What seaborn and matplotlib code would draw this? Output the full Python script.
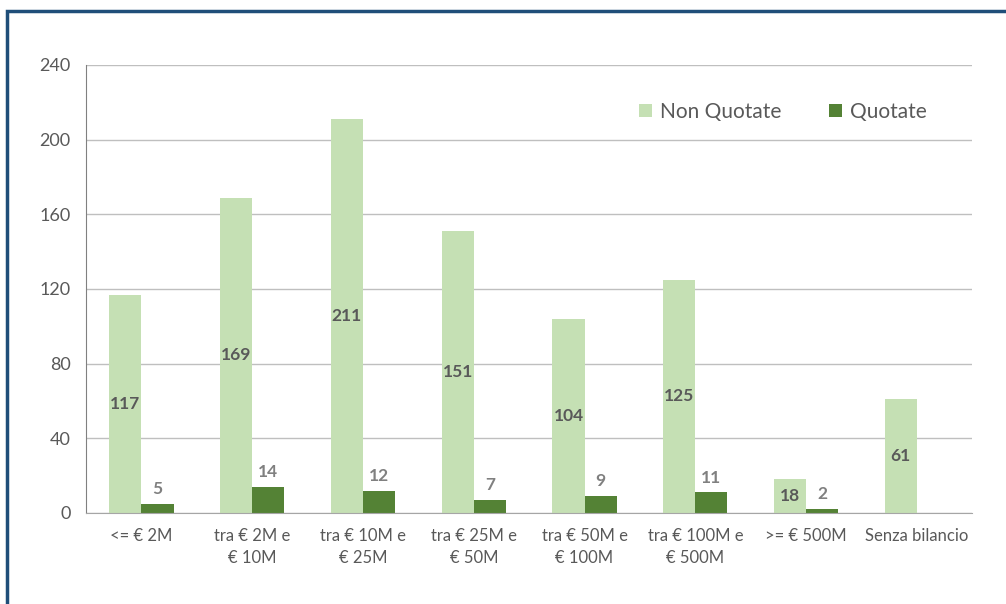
import pandas as pd
import numpy as np
import matplotlib
matplotlib.use('Agg')
import matplotlib.pyplot as plt
import seaborn as sns
from matplotlib.patches import Rectangle

# data
categories = ['<= € 2M', 'tra € 2M e\n€ 10M', 'tra € 10M e\n€ 25M', 'tra € 25M e\n€ 50M',
              'tra € 50M e\n€ 100M', 'tra € 100M e\n€ 500M', '>= € 500M', 'Senza bilancio']
non_quotate = [117, 169, 211, 151, 104, 125, 18, 61]
quotate = [5, 14, 12, 7, 9, 11, 2, 0]
series = ['Non Quotate', 'Quotate']
colors = ['#C5E0B4', '#548235']

df = pd.DataFrame({'cat': categories, 'Non Quotate': non_quotate, 'Quotate': quotate})
df_melted = df.melt(id_vars='cat', value_vars=series, var_name='serie', value_name='value')

sns.set_style('white')
plt.rcParams['font.family'] = ['Lato', 'DejaVu Sans']

fig = plt.figure(figsize=(10.06, 6.04), dpi=100)
ax = fig.add_axes([0.0855, 0.1507, 0.881, 0.7417])

sns.barplot(x='cat', y='value', hue='serie', data=df_melted, ax=ax,
            palette=colors, width=0.58, saturation=1, gap=0, linewidth=0)

ax.set_ylim(0, 240)
ax.set_xlim(-0.5, len(categories) - 0.5)
ax.set_yticks(range(0, 241, 40))
ax.set_xlabel(None)
ax.set_ylabel(None)
ax.yaxis.grid(True, color='#BFBFBF', linewidth=1)
ax.set_axisbelow(True)

for s in ['top', 'right']:
    ax.spines[s].set_visible(False)
ax.spines['left'].set_color('#808080')
ax.spines['bottom'].set_color('#A6A6A6')

# excel style ticks between categories
ax.set_xticks(np.arange(len(categories)))
ax.set_xticklabels(categories, linespacing=1.45)
ax.set_xticks(np.arange(-0.5, len(categories), 1), minor=True)
ax.tick_params(axis='x', which='major', length=0, pad=11, labelsize=12, labelcolor='#595959')
ax.tick_params(axis='x', which='minor', length=5, color='#A6A6A6')
ax.tick_params(axis='y', length=6, color='#808080', labelsize=13, labelcolor='#595959', pad=5)

# value labels
nq_bars, q_bars = ax.containers[0], ax.containers[1]
for bar, v in zip(nq_bars, non_quotate):
    ax.text(bar.get_x() + bar.get_width() / 2, v / 2, str(v), ha='center', va='center',
            fontsize=12.5, fontweight='bold', color='#595959')
for bar, v in zip(q_bars, quotate):
    if v == 0:
        continue
    ax.text(bar.get_x() + bar.get_width() / 2, v + 8, str(v), ha='center', va='center',
            fontsize=12.5, fontweight='bold', color='#808080')

leg = ax.legend(ncol=2, loc='upper right', bbox_to_anchor=(0.97, 0.96), frameon=False,
                fontsize=15, handlelength=0.6, handleheight=0.6, columnspacing=2.3,
                handletextpad=0.4)
for t in leg.get_texts():
    t.set_color('#595959')

# dark blue frame around the chart (clipped at right and bottom)
fig.patches.append(Rectangle((7 / 1006, -0.2), 1.5, 1.2 - 11 / 604,
                             transform=fig.transFigure, fill=False,
                             edgecolor='#1F4E79', linewidth=2.5))

fig.savefig('out.png', dpi=100)
